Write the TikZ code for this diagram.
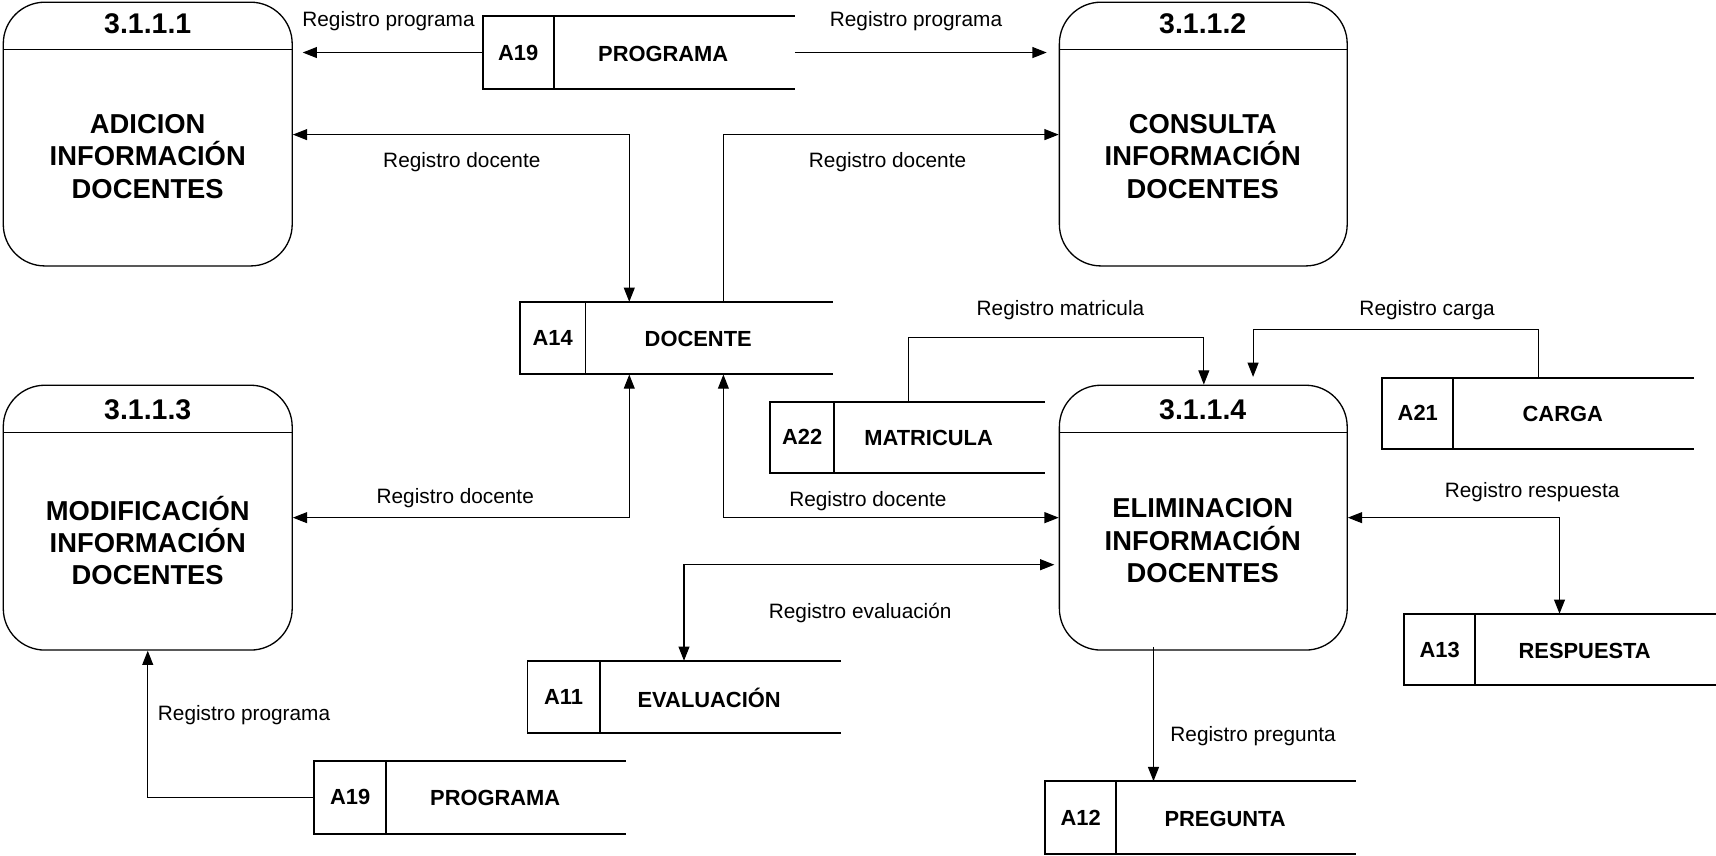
\documentclass[tikz,border=0pt]{standalone}
\usepackage{fontspec}
\setmainfont{Liberation Sans}
\usetikzlibrary{arrows.meta}
\tikzset{
  proc/.style={draw, line width=1.2pt, rounded corners=38pt, inner sep=0pt},
  hline/.style={line width=1.2pt},
  ptitle/.style={font=\bfseries\fontsize{26}{30}\selectfont, inner sep=0pt},
  pbody/.style={font=\bfseries\fontsize{25}{29.5}\selectfont, align=center, inner sep=0pt},
  sbox/.style={inner sep=0pt},
  sline/.style={line width=1.8pt},
  sid/.style={font=\bfseries\fontsize{20}{24}\selectfont, inner sep=0pt},
  sname/.style={font=\bfseries\fontsize{20}{24}\selectfont, inner sep=0pt},
  flowlabel/.style={font=\fontsize{19}{23}\selectfont, inner sep=0pt},
  flow/.style={line width=1pt, -{Triangle[length=13pt,width=10pt]}},
  flowboth/.style={line width=1pt, {Triangle[length=13pt,width=10pt]}-{Triangle[length=13pt,width=10pt]}}
}
\newcommand\dstore[8]{%
  \node[sbox, minimum width={#4-#2}, minimum height={#5-#3}] (#1) at ({(#2+#4)/2},{(#3+#5)/2}) {};
  \draw[sline] (#4,#3) -- (#2,#3) -- (#2,#5) -- (#4,#5);
  \draw[sline] (#6,#3) -- (#6,#5);
  \node[sid] (#1-id) at ({(#2+#6)/2},{(#3+#5)/2}) {#7};
  \node[sname] (#1-name) at ({(#6+#4)/2-10},{(#3+#5)/2+1}) {#8};
}
\begin{document}
\begin{tikzpicture}[x=1pt,y=-1pt]
\useasboundingbox (0,0) rectangle (1568,782);

% processes
\node[proc, minimum width=264pt, minimum height=241pt] (p1) at (135,122.5) {};
\node[proc, minimum width=263pt, minimum height=241pt] (p2) at (1099.5,122.5) {};
\node[proc, minimum width=264pt, minimum height=242pt] (p3) at (135,473) {};
\node[proc, minimum width=263pt, minimum height=242pt] (p4) at (1099.5,473) {};
\draw[hline] (3,45) -- (267,45);
\draw[hline] (968,45) -- (1231,45);
\draw[hline] (3,395) -- (267,395);
\draw[hline] (968,395) -- (1231,395);
\node[ptitle] (p1t) at (135,22) {3.1.1.1};
\node[ptitle] (p2t) at (1099,22) {3.1.1.2};
\node[ptitle] (p3t) at (135,374) {3.1.1.3};
\node[ptitle] (p4t) at (1099,374) {3.1.1.4};
\node[pbody] (p1b) at (135,143) {ADICION\\INFORMACIÓN\\DOCENTES};
\node[pbody] (p2b) at (1099,143) {CONSULTA\\INFORMACIÓN\\DOCENTES};
\node[pbody] (p3b) at (135,494) {MODIFICACIÓN\\INFORMACIÓN\\DOCENTES};
\node[pbody] (p4b) at (1099,494) {ELIMINACION\\INFORMACIÓN\\DOCENTES};

% stores
\dstore{s1}{441}{15}{726}{81}{506}{A19}{PROGRAMA}
\dstore{s2}{475}{276}{761}{342}{535}{A14}{DOCENTE}
\dstore{s3}{704}{367}{955}{432}{762}{A22}{MATRICULA}
\dstore{s4}{1263}{345}{1548}{410}{1328}{A21}{CARGA}
\dstore{s5}{1283}{561}{1568}{626}{1348}{A13}{RESPUESTA}
\dstore{s6}{482}{604}{768}{670}{548}{A11}{EVALUACIÓN}
\dstore{s7}{955}{714}{1239}{780}{1020}{A12}{PREGUNTA}
\dstore{s8}{287}{695}{572}{762}{353}{A19}{PROGRAMA}

% bend coordinates
\coordinate (c3) at (575,123);
\coordinate (c4) at (661,123);
\coordinate (c5) at (575,473);
\coordinate (c6) at (661,473);
\coordinate (c7a) at (830,308);
\coordinate (c7b) at (1100,308);
\coordinate (c8a) at (1406,301);
\coordinate (c8b) at (1145,301);
\coordinate (c9) at (1425,473);
\coordinate (c10) at (625,516);
\coordinate (c11) at (1054,591);

% connectors
\draw[flow, shorten >=9pt] (s1.west) -- (s1.west -| p1.east);
\draw[flow, shorten >=11pt] (s1.east) -- (s1.east -| p2.west);
\draw[flowboth] (c3 -| p1.east) -- (c3) -- (c3 |- s2.north);
\draw[flow] (c4 |- s2.north) -- (c4) -- (c4 -| p2.west);
\draw[flowboth] (c5 |- s2.south) -- (c5) -- (c5 -| p3.east);
\draw[flowboth] (c6 |- s2.south) -- (c6) -- (c6 -| p4.west);
\draw[flow] (c7a |- s3.north) -- (c7a) -- (c7b) -- (c7b |- p4.north);
\draw[flow, shorten >=7pt] (c8a |- s4.north) -- (c8a) -- (c8b) -- (c8b |- p4.north);
\draw[flowboth] (c9 -| p4.east) -- (c9) -- (c9 |- s5.north);
\draw[flowboth, shorten >=4pt] (c10 |- s6.north) -- (c10) -- (c10 -| p4.west);
\draw[flow] (c11) -- (c11 |- s7.north);
\draw[flow] (s8.west) -- (s8.west -| p3.south) -- (p3.south);

% labels
\node[flowlabel] (l1) at (355,19) {Registro programa};
\node[flowlabel] (l2) at (837,19) {Registro programa};
\node[flowlabel] (l3) at (422,148) {Registro docente};
\node[flowlabel] (l4) at (811,148) {Registro docente};
\node[flowlabel] (l5) at (416,455) {Registro docente};
\node[flowlabel] (l6) at (793,458) {Registro docente};
\node[flowlabel] (l7) at (969,283) {Registro matricula};
\node[flowlabel] (l8) at (1304,283) {Registro carga};
\node[flowlabel] (l9) at (1400,450) {Registro respuesta};
\node[flowlabel] (l10) at (786,560) {Registro evaluación};
\node[flowlabel] (l11) at (1145,673) {Registro pregunta};
\node[flowlabel] (l12) at (223,653) {Registro programa};
\end{tikzpicture}
\end{document}
